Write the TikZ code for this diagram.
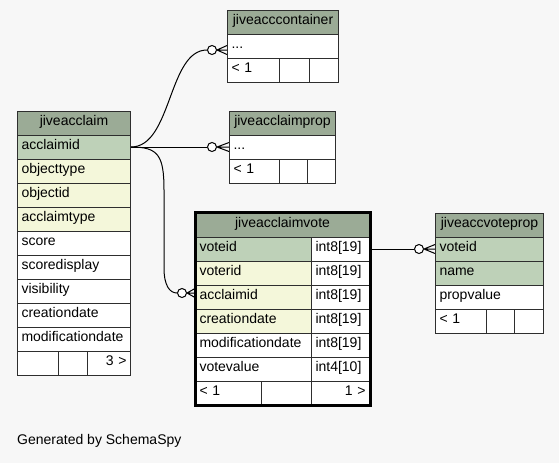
\documentclass[tikz,border=0pt]{standalone}
\usepackage{fontspec}
\setmainfont{Liberation Sans}
\definecolor{hdrc}{HTML}{9BAB96}
\definecolor{pkc}{HTML}{BED1B8}
\definecolor{idxc}{HTML}{F4F7DA}
\definecolor{bgc}{HTML}{F7F7F7}
\definecolor{gridc}{HTML}{2E2E2E}
\newcommand{\crowfoot}[2]{\draw[link] (#1.east) -- ([yshift=4.5pt]#2) (#1.east) -- (#2) (#1.east) -- ([yshift=-4.5pt]#2);}
\begin{document}
\begin{tikzpicture}[x=1pt,y=-1pt]
\tikzstyle{cell}=[draw=gridc, line width=1pt, anchor=west, minimum height=24pt, inner xsep=4pt, inner ysep=0pt, text height=9pt, text depth=4pt, font=\fontsize{14}{16}\selectfont, align=left]
\tikzstyle{hdr}=[cell, fill=hdrc, align=center]
\tikzstyle{pk}=[cell, fill=pkc]
\tikzstyle{idx}=[cell, fill=idxc]
\tikzstyle{plain}=[cell, fill=white]
\tikzstyle{footr}=[cell, fill=white, align=right]
\tikzstyle{link}=[line width=1pt]
\tikzstyle{ring}=[circle, draw, fill=white, line width=1pt, minimum size=9pt, inner sep=0pt]
\useasboundingbox (0,0) rectangle (559,463);
\fill[bgc] (0,0) rectangle (559,463);

\node[hdr, text width=105pt] (claim) at (17,123) {jiveacclaim};
\foreach \n/\s [count=\i] in {acclaimid/pk, objecttype/idx, objectid/idx, acclaimtype/idx, score/plain, scoredisplay/plain, visibility/plain, creationdate/plain, modificationdate/plain}
  \node[\s, text width=105pt] (claim\i) at (17,{123+24*\i}) {\n};
\node[plain, text width=33pt] (claimf1) at (17,363) {};
\node[plain, text width=21pt] (claimf2) at (58,363) {};
\node[footr, text width=35pt] (claimf3) at (87,363) {3 >};

\node[hdr, text width=103pt] (cont) at (227,22) {jiveacccontainer};
\node[plain, text width=103pt] (cont1) at (227,46) {...};
\node[plain, text width=44pt] (contf1) at (227,70) {< 1};
\node[plain, text width=22pt] (contf2) at (279,70) {};
\node[plain, text width=21pt] (contf3) at (309,70) {};

\node[hdr, text width=98pt] (prop) at (229,123) {jiveacclaimprop};
\node[plain, text width=98pt] (prop1) at (229,147) {...};
\node[plain, text width=42pt] (propf1) at (229,171) {< 1};
\node[plain, text width=20pt] (propf2) at (279,171) {};
\node[plain, text width=20pt] (propf3) at (307,171) {};

\node[hdr, text width=166pt] (vote) at (195,225) {jiveacclaimvote};
\foreach \n/\s/\t [count=\i] in {voteid/pk/int8[19], voterid/idx/int8[19], acclaimid/idx/int8[19], creationdate/idx/int8[19], modificationdate/plain/int8[19], votevalue/plain/int4[10]}
{
  \node[\s, text width=108pt] (vote\i) at (195,{225+24*\i}) {\n};
  \node[plain, text width=50pt] (votet\i) at (311,{225+24*\i}) {\t};
}
\node[plain, text width=58pt] (votef1) at (195,393) {< 1};
\node[plain, text width=42pt] (votef2) at (261,393) {};
\node[footr, text width=50pt] (votef3) at (311,393) {1 >};
\draw[line width=3pt, draw=black] (vote.north west) rectangle (votef3.south east);

\node[hdr, text width=100pt] (vp) at (435,225) {jiveaccvoteprop};
\foreach \n/\s [count=\i] in {voteid/pk, name/pk, propvalue/plain}
  \node[\s, text width=100pt] (vp\i) at (435,{225+24*\i}) {\n};
\node[plain, text width=43pt] (vpf1) at (435,321) {< 1};
\node[plain, text width=20pt] (vpf2) at (486,321) {};
\node[plain, text width=21pt] (vpf3) at (514,321) {};

\node[ring] (o1) at (212,50) {};
\node[ring] (o2) at (212,147) {};
\node[ring] (o3) at (182,293) {};
\node[ring] (o4) at (419,249) {};
\coordinate (in1) at ([yshift=-4pt]cont1.west);
\coordinate (in3) at ([yshift=4pt]vote3.west);
\draw[link] (claim1.east) .. controls (172,147) and (168,50) .. (o1.west);
\draw[link] (claim1.east) -- (o2.west);
\draw[link] (claim1.east) .. controls (158,147) and (164,155) .. (164,190) -- (164,268) .. controls (164,286) and (170,293) .. (o3.west);
\draw[link] (votet1.east) -- (o4.west);
\crowfoot{o1}{in1}
\crowfoot{o2}{prop1.west}
\crowfoot{o3}{in3}
\crowfoot{o4}{vp1.west}

\node[anchor=west, inner sep=0pt, font=\fontsize{14}{16}\selectfont] (gen) at (17,441) {Generated by SchemaSpy};
\end{tikzpicture}
\end{document}
